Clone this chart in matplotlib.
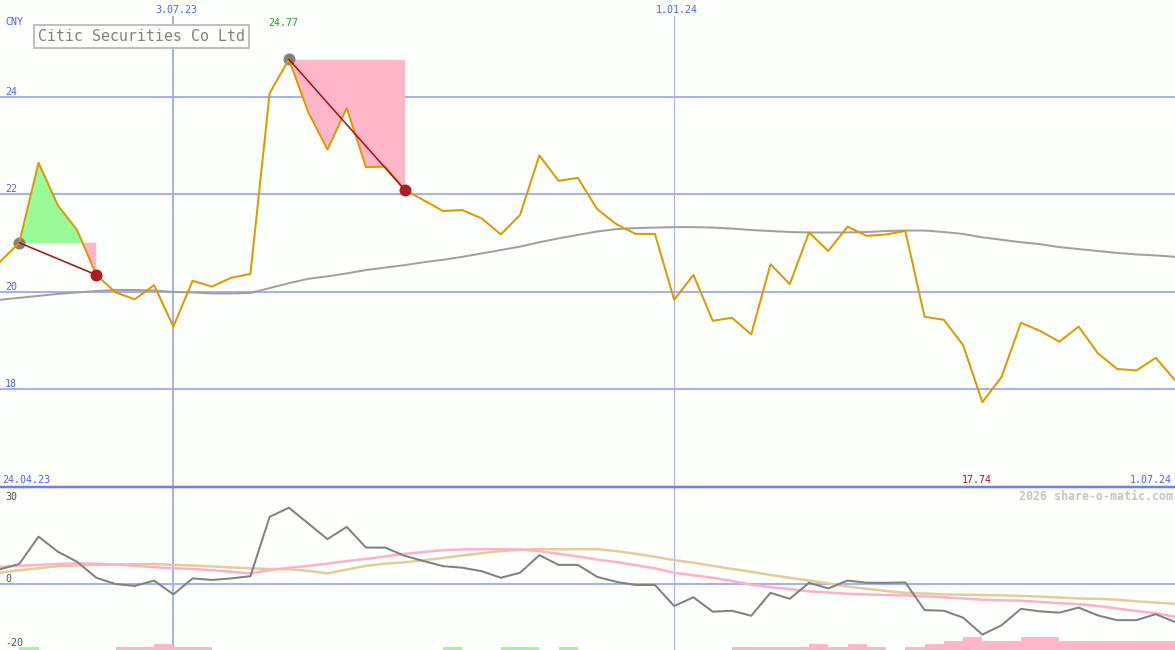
import matplotlib
matplotlib.use('Agg')
import matplotlib.pyplot as plt
import numpy as np
import pandas as pd

# ---------------- data ----------------
start_date = '2023-05-01'
n_weeks = 62
price = [20.62, 21.01, 22.65, 21.78, 21.27, 20.35, 19.99, 19.85, 20.14, 19.29,
         20.23, 20.11, 20.29, 20.37, 24.08, 24.77, 23.69, 22.92, 23.77, 22.56,
         22.57, 22.10, 21.88, 21.66, 21.68, 21.51, 21.18, 21.58, 22.80, 22.28,
         22.34, 21.70, 21.39, 21.19, 21.19, 19.84, 20.35, 19.41, 19.47, 19.13,
         20.57, 20.16, 21.22, 20.84, 21.34, 21.15, 21.18, 21.25, 19.49, 19.43,
         18.91, 17.74, 18.26, 19.37, 19.20, 18.98, 19.29, 18.74, 18.42, 18.39,
         18.65, 18.19]
price_ma = [19.84, 19.88, 19.92, 19.96, 19.99, 20.02, 20.04, 20.04, 20.03, 20.00,
            19.99, 19.97, 19.97, 19.98, 20.08, 20.18, 20.27, 20.32, 20.38, 20.45,
            20.50, 20.55, 20.61, 20.66, 20.72, 20.79, 20.86, 20.93, 21.02, 21.10,
            21.17, 21.24, 21.29, 21.31, 21.32, 21.33, 21.33, 21.32, 21.30, 21.27,
            21.25, 21.23, 21.22, 21.22, 21.22, 21.23, 21.25, 21.26, 21.26, 21.23,
            21.19, 21.12, 21.07, 21.02, 20.98, 20.92, 20.88, 20.84, 20.80, 20.77,
            20.75, 20.72]
momentum = [4.7, 6.4, 15.1, 10.3, 7.1, 2.0, 0.0, -0.6, 1.1, -3.3,
            1.8, 1.3, 1.8, 2.5, 21.4, 24.3, 19.3, 14.3, 18.2, 11.6,
            11.6, 9.0, 7.3, 5.7, 5.2, 4.1, 2.0, 3.6, 9.2, 6.1,
            6.1, 2.3, 0.7, -0.3, -0.3, -7.0, -4.2, -8.8, -8.5, -10.1,
            -2.8, -4.7, 0.4, -1.4, 1.1, 0.4, 0.4, 0.5, -8.3, -8.5,
            -10.7, -16.1, -13.1, -7.9, -8.7, -9.1, -7.5, -10.0, -11.5, -11.5,
            -9.6, -12.1]
signal_pink = [5.5, 5.8, 6.1, 6.4, 6.6, 6.5, 6.2, 5.8, 5.4, 5.0,
               4.8, 4.4, 3.9, 3.4, 4.4, 5.2, 5.8, 6.5, 7.3, 8.0,
               8.8, 9.6, 10.2, 10.8, 11.0, 11.1, 11.1, 11.0, 10.5, 9.6,
               8.8, 7.8, 7.0, 6.0, 5.0, 3.6, 2.8, 2.0, 1.0, -0.2,
               -1.0, -1.6, -2.3, -2.7, -3.1, -3.3, -3.5, -3.6, -3.9, -4.2,
               -4.6, -5.0, -5.2, -5.3, -5.7, -6.1, -6.4, -7.0, -7.8, -8.6,
               -9.3, -10.4]
signal_tan = [3.6, 4.4, 5.0, 5.7, 5.9, 6.1, 6.2, 6.3, 6.4, 6.1,
              5.9, 5.6, 5.3, 5.0, 4.8, 4.7, 4.2, 3.4, 4.6, 5.8,
              6.5, 6.9, 7.6, 8.3, 9.1, 9.8, 10.5, 10.9, 11.1, 11.1,
              11.1, 11.1, 10.5, 9.6, 8.7, 7.6, 6.8, 5.8, 4.8, 3.9,
              2.9, 2.0, 1.1, 0.2, -0.8, -1.5, -2.2, -2.8, -3.0, -3.3,
              -3.4, -3.5, -3.6, -3.8, -4.0, -4.3, -4.6, -4.7, -5.0, -5.5,
              -5.9, -6.3]
# histogram at the bottom (positive = green, negative = pink)
hist = [0, 1, 0, 0, 0, 0, -1, -1, -2, -1,
        -1, 0, 0, 0, 0, 0, 0, 0, 0, 0,
        0, 0, 0, 1, 0, 0, 1, 1, 0, 1,
        0, 0, 0, 0, 0, 0, 0, 0, -1, -1,
        -1, -1, -2, -1, -2, -1, 0, -1, -2, -3,
        -4, -3, -3, -4, -4, -3, -3, -3, -3, -3,
        -3, 0]
# annotated swings: (start index, end index)
swings = [(1, 5), (15, 21)]

price_levels = [18, 20, 22, 24]
lower_labels = [30, 0, -20]
vline_dates = ['2023-07-03', '2024-01-01']
vline_labels = ['3.07.23', '1.01.24']
left_label = '24.04.23'
right_label = '1.07.24'
currency = 'CNY'
title = 'Citic Securities Co Ltd'
watermark = '2026 share-o-matic.com'

# ---------------- style ----------------
W, H = 1175, 650
bg = '#fdfffd'
grid_c = '#a3b1f2'
blue_txt = '#5060f0'
mono = 'DejaVu Sans Mono'
px = 0.72  # points per pixel at 100 dpi

dates = pd.date_range(start_date, periods=n_weeks, freq='7D')
price = np.array(price)

fig = plt.figure(figsize=(W / 100, H / 100), dpi=100, facecolor=bg)
ax = fig.add_axes([0, (H - 487) / H, 1, (487 - 16) / H])
ax2 = fig.add_axes([0, 0, 1, (H - 487) / H])
for a in (ax, ax2):
    a.set_axis_off()
    a.set_xlim(dates[0], dates[-1])
ax.set_ylim(16.0, 25.66)
ax2.set_ylim(-21.0, 30.9)

# grid
for v in price_levels:
    ax.axhline(v, color=grid_c, lw=2 * px, zorder=1)
ax2.axhline(0, color=grid_c, lw=2 * px, zorder=1)
for d, lw in zip(vline_dates, [2, 1]):
    for a in (ax, ax2):
        a.axvline(pd.Timestamp(d), color=grid_c, lw=lw * px, zorder=1)
fig.add_artist(plt.Line2D([0, 1], [(H - 487) / H] * 2, color='#7080e8',
                          lw=2.5 * px, transform=fig.transFigure))

# swings
for s, e in swings:
    xs = dates[s:e + 1]
    ys = price[s:e + 1]
    lvl = price[s]
    ax.fill_between(xs, ys, lvl, where=ys >= lvl, interpolate=True,
                    color='#98fb98', lw=0, zorder=2)
    ax.fill_between(xs, ys, lvl, where=ys <= lvl, interpolate=True,
                    color='#ffb6c8', lw=0, zorder=2)

# lines
ax.plot(dates, price_ma, color='#a0a0a0', lw=2 * px, zorder=3)
for s, e in swings:
    ax.plot([dates[s]], [price[s]], 'o', color='#808080', ms=12 * px, mew=0, zorder=3)
ax.plot(dates, price, color='#dd9900', lw=2 * px, zorder=4)
for s, e in swings:
    ax.plot([dates[s], dates[e]], [price[s], price[e]], color='#a01818',
            lw=1.6 * px, zorder=5)
    ax.plot([dates[e]], [price[e]], 'o', color='#aa2020', ms=12 * px, mew=0, zorder=6)

# lower panel
ax2.plot(dates, signal_tan, color='#e2cc9a', lw=2.5 * px, zorder=3)
ax2.plot(dates, signal_pink, color='#ffb0c8', lw=2.5 * px, zorder=3)
ax2.plot(dates, momentum, color='#808080', lw=2 * px, zorder=4)
hist = np.array(hist)
ax2.bar(dates, np.abs(hist), width=7, align='edge', bottom=-21.0,
        color=['#98fb98' if h > 0 else '#ffb6c8' for h in hist], lw=0, zorder=5)


def ftext(x, y, s, **kw):
    kw.setdefault('family', mono)
    kw.setdefault('fontsize', 7.2)
    kw.setdefault('va', 'baseline')
    return fig.text(x / W, 1 - y / H, s, **kw)


ftext(5, 25, currency, color=blue_txt)
for v in price_levels:
    ax.annotate(str(v), xy=(0, v), xycoords=('axes fraction', 'data'),
                xytext=(5, 2), textcoords='offset pixels', va='baseline',
                family=mono, fontsize=7.2, color=blue_txt)
for d, lbl in zip(vline_dates, vline_labels):
    ax.annotate(lbl, xy=(pd.Timestamp(d), 1 - 13 / H),
                xycoords=('data', 'figure fraction'), xytext=(3, 0),
                textcoords='offset pixels', ha='center', va='baseline',
                family=mono, fontsize=7.2, color=blue_txt)
imax = int(np.argmax(price))
imin = int(np.argmin(price))
ax.annotate(f'{price[imax]:.2f}', xy=(dates[imax], 1 - 25.5 / H),
            xycoords=('data', 'figure fraction'), xytext=(-6, 0),
            textcoords='offset pixels', ha='center', va='baseline',
            family=mono, fontsize=7.2, color='#20a020')
ax.annotate(f'{price[imin]:.2f}', xy=(dates[imin], 1 - 483 / H),
            xycoords=('data', 'figure fraction'), xytext=(-6, 0),
            textcoords='offset pixels', ha='center', va='baseline',
            family=mono, fontsize=7.2, color='#a01818')
ftext(2, 483, left_label, color=blue_txt)
ftext(1172, 483, right_label, color=blue_txt, ha='right')
ftext(1173, 500, watermark, color='#c4c4c4', ha='right', fontsize=8.4,
      fontweight='bold')
for v, yb in zip(lower_labels, [499.5, 582, 646]):
    ftext(5, yb, str(v), color='#505050')

ftext(38, 41, title, color='#808080', fontsize=10.7,
      bbox=dict(boxstyle='square,pad=0.25', fc='#fdfffd', ec='#c0c0c0',
                lw=2 * px))

fig.savefig('out.png', dpi=100, facecolor=bg)
